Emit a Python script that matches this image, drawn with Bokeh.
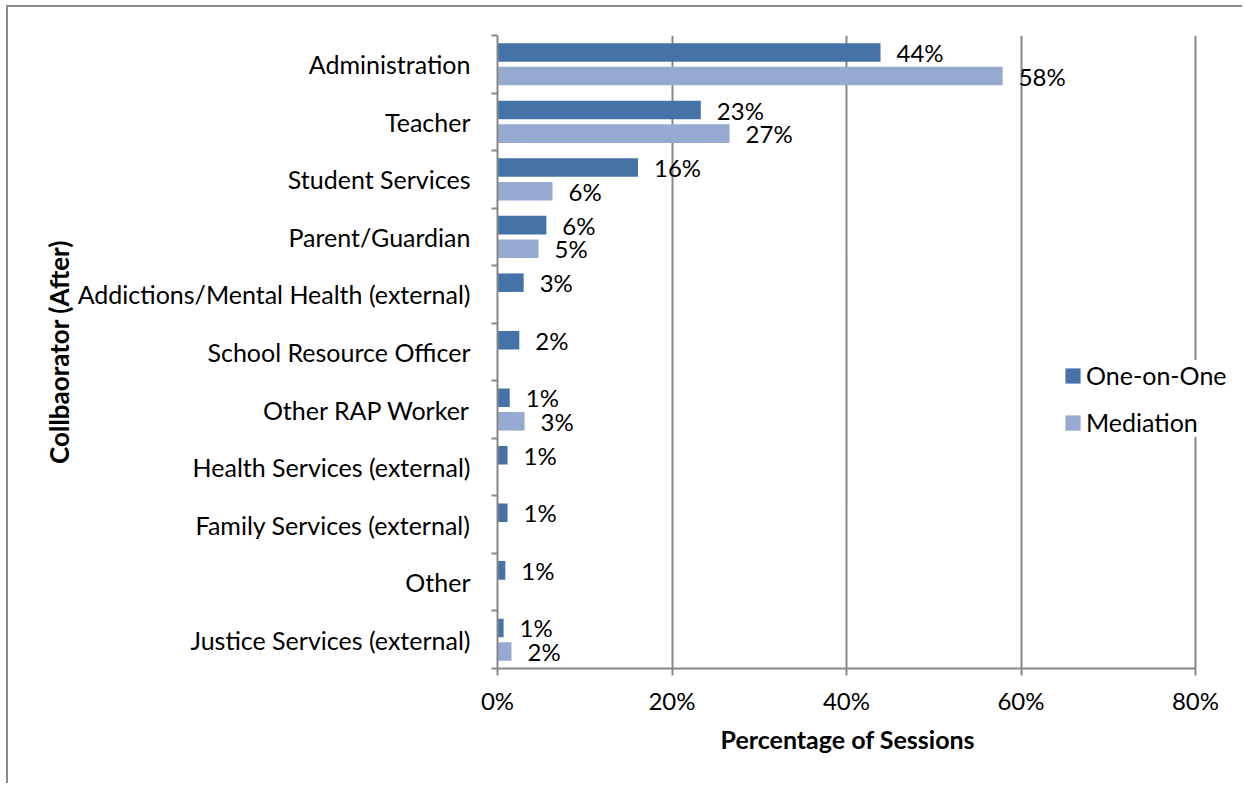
from bokeh.plotting import figure
from bokeh.models import ColumnDataSource, Range1d, FixedTicker, Legend, LegendItem, Title
from bokeh.core.properties import value
from bokeh.embed import file_html
from bokeh.resources import INLINE

categories = [
    "Administration",
    "Teacher",
    "Student Services",
    "Parent/Guardian",
    "Addictions/Mental Health (external)",
    "School Resource Officer",
    "Other RAP Worker",
    "Health Services (external)",
    "Family Services (external)",
    "Other",
    "Justice Services (external)",
]
one_on_one = [43.9, 23.3, 16.1, 5.6, 3.0, 2.5, 1.4, 1.15, 1.15, 0.9, 0.7]
mediation = [57.9, 26.6, 6.3, 4.7, 0, 0, 3.1, 0, 0, 0, 1.6]
x_ticks = [0, 20, 40, 60, 80]
x_tick_labels = ["0%", "20%", "40%", "60%", "80%"]
series_names = ["One-on-One", "Mediation"]

C1 = "#4572A7"
C2 = "#95A9D1"
GRAY = "#888888"
FONT = "Lato"

W, H = 1236, 778
FRAME_L, FRAME_R = 489, 1236  # canvas px
X_MAX = 80.0
x_end = X_MAX * (FRAME_R - FRAME_L) / (1187 - FRAME_L)

p = figure(
    width=W, height=H,
    output_backend="svg", toolbar_location=None,
    x_range=Range1d(0, x_end), y_range=Range1d(len(categories), 0),
    min_border_left=FRAME_L, min_border_right=0, min_border_top=28, min_border_bottom=117,
)
p.styles = {"margin-left": "6px", "margin-top": "5px",
            "border-left": "2px solid #8a8a8a", "border-top": "2px solid #8a8a8a"}
p.outline_line_color = None
p.background_fill_color = "white"
p.border_fill_color = "white"

n = len(categories)
centers = [i + 0.5 for i in range(n)]
off = 0.205
bh = 0.322

src1 = ColumnDataSource(dict(y=[c - off for c in centers], v=one_on_one))
src2 = ColumnDataSource(dict(y=[c + off for c in centers], v=mediation))

r1 = p.hbar(y="y", right="v", left=0, height=bh, source=src1,
            fill_color=C1, line_color=None)
r2 = p.hbar(y="y", right="v", left=0, height=bh, source=src2,
            fill_color=C2, line_color=None)

def label_source(ys, vals):
    yy, xx, tt = [], [], []
    for y, v in zip(ys, vals):
        if v > 0:
            yy.append(y); xx.append(v); tt.append(f"{round(v):d}%")
    return ColumnDataSource(dict(y=yy, x=xx, t=tt))

for src_vals, ys in ((one_on_one, src1.data["y"]), (mediation, src2.data["y"])):
    ls = label_source(ys, src_vals)
    p.text(x="x", y="y", text="t", source=ls, x_offset=16, y_offset=0,
           text_align="left", text_baseline="middle",
           text_font=value(FONT), text_font_size="24px", text_color="black")

# grid
p.ygrid.visible = False
p.xgrid.ticker = FixedTicker(ticks=x_ticks)
p.xgrid.grid_line_color = GRAY
p.xgrid.grid_line_width = 2

# x axis
xa = p.xaxis[0]
xa.ticker = FixedTicker(ticks=x_ticks)
xa.bounds = (0, X_MAX)
xa.major_label_overrides = {t: l for t, l in zip(x_ticks, x_tick_labels)}
xa.axis_line_color = GRAY
xa.axis_line_width = 2
xa.major_tick_line_color = GRAY
xa.major_tick_line_width = 2
xa.major_tick_out = 7
xa.major_tick_in = 0
xa.minor_tick_line_color = None
xa.major_label_text_font = FONT
xa.major_label_text_font_size = "24px"
xa.major_label_text_color = "black"
xa.major_label_standoff = 10

# x axis title, centred under the 0-80% span
xtitle = Title(text="Percentage of Sessions", align="left", offset=223,
               text_font=FONT, text_font_size="25px", text_font_style="bold",
               text_color="black", standoff=8)
p.add_layout(xtitle, "below")

# y axis
ya = p.yaxis[0]
ya.ticker = FixedTicker(ticks=centers, minor_ticks=list(range(n + 1)))
ya.major_label_overrides = {c: name for c, name in zip(centers, categories)}
ya.axis_line_color = GRAY
ya.axis_line_width = 2
ya.major_tick_line_color = None
ya.major_tick_out = 0
ya.major_tick_in = 0
ya.minor_tick_line_color = GRAY
ya.minor_tick_line_width = 2
ya.minor_tick_out = 6
ya.minor_tick_in = 0
ya.major_label_text_font = FONT
ya.major_label_text_font_size = "25px"
ya.major_label_text_color = "black"
ya.major_label_standoff = 21
ya.axis_label = "Collbaorator (After)"
ya.axis_label_text_font = FONT
ya.axis_label_text_font_size = "26px"
ya.axis_label_text_font_style = "bold"
ya.axis_label_text_color = "black"
ya.axis_label_standoff = 0

legend = Legend(
    items=[LegendItem(label=series_names[0], renderers=[r1]),
           LegendItem(label=series_names[1], renderers=[r2])],
    location=(566, 231),
    glyph_width=19, glyph_height=19,
    label_text_font=FONT, label_text_font_size="25px", label_text_color="black",
    label_standoff=4, spacing=17, padding=12, margin=0,
    border_line_color=None, background_fill_color="white", background_fill_alpha=1.0,
)
p.add_layout(legend, "center")

open("out.html", "w").write(file_html(p, INLINE))
